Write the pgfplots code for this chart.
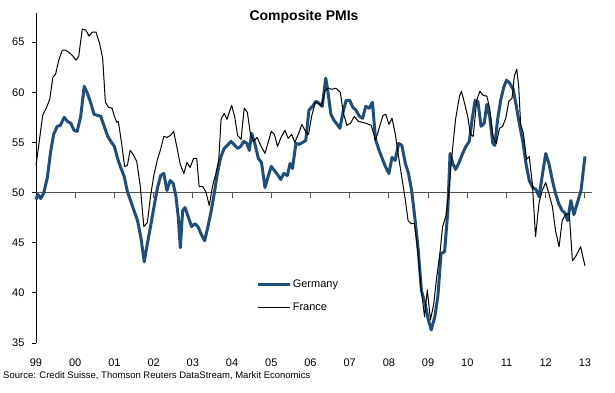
\documentclass[border=0pt]{standalone}
\usepackage{pgfplots}
\pgfplotsset{compat=1.18}
\usepackage{fontspec}
\setmainfont{Liberation Sans}
\definecolor{gerblue}{RGB}{31,78,121}
\definecolor{axisgray}{RGB}{80,80,80}
\begin{document}
\begin{tikzpicture}[x=1pt,y=1pt]
\useasboundingbox (0,0) rectangle (615,392);
\begin{axis}[
  at={(36pt,49pt)}, anchor=south west,
  scale only axis, width=556pt, height=330pt,
  xmin=1999, xmax=2013.18, ymin=35, ymax=67.9,
  axis x line*=bottom, axis y line*=left,
  axis line style={-},
  x axis line style={draw=none},
  y axis line style={black, line width=0.8pt},
  xtick={1999,2000,...,2013},
  xticklabels={99,00,01,02,03,04,05,06,07,08,09,10,11,12,13},
  xtick style={draw=none},
  ytick={35,40,...,65},
  ytick style={black, line width=0.8pt},
  tick align=outside,
  major tick length=4pt,
  /pgf/number format/assume math mode=true,
  tick label style={font=\fontsize{11}{13}\selectfont},
  xticklabel style={yshift=-8pt},
  yticklabel style={xshift=-4pt},
  clip=false,
  legend style={at={(axis cs:2004.55,39.73)}, anchor=west, draw=none, fill=none,
    font=\fontsize{11}{13}\selectfont, row sep=12pt,
    nodes={inner sep=1pt}},
  legend cell align=left,
  legend image code/.code={\draw[#1] (0pt,0pt) -- (32pt,0pt);},
]
\draw[axisgray, line width=1.3pt] (axis cs:1999,50) -- (axis cs:2013.18,50);
\pgfplotsinvokeforeach{2000,...,2013}{\draw[axisgray, line width=0.9pt] (axis cs:#1,50) -- ++(0pt,-5pt);}
\addplot[gerblue, line width=3pt, line join=round] coordinates {
(1999.00,49.3) (1999.05,49.8) (1999.12,49.4) (1999.20,50.0) (1999.29,51.5) (1999.37,54.0)
(1999.45,55.8) (1999.54,56.6) (1999.62,56.7) (1999.72,57.5) (1999.80,57.1) (1999.89,56.9)
(1999.97,56.2) (2000.05,56.1) (2000.14,57.6) (2000.23,60.6) (2000.31,59.9) (2000.40,58.9)
(2000.48,57.8) (2000.57,57.7) (2000.65,57.6) (2000.74,56.6) (2000.83,55.6) (2000.91,55.1)
(2001.00,54.6) (2001.08,53.4) (2001.17,52.4) (2001.25,51.6) (2001.33,50.1) (2001.42,49.1)
(2001.50,48.2) (2001.59,47.2) (2001.68,45.4) (2001.76,43.1) (2001.84,44.9) (2001.93,46.8)
(2002.01,48.6) (2002.10,50.5) (2002.18,51.7) (2002.26,51.9) (2002.34,50.2) (2002.42,51.2)
(2002.50,50.9) (2002.57,49.6) (2002.63,47.5) (2002.68,44.5) (2002.74,48.2) (2002.80,48.5)
(2002.88,47.6) (2002.97,46.6) (2003.05,46.9) (2003.13,46.6) (2003.22,45.8) (2003.30,45.2)
(2003.38,46.5) (2003.47,48.2) (2003.55,50.0) (2003.63,52.0) (2003.71,53.5) (2003.80,54.4)
(2003.88,54.7) (2003.97,55.1) (2004.05,54.8) (2004.14,54.4) (2004.22,54.6) (2004.30,55.1)
(2004.38,54.9) (2004.44,54.2) (2004.50,55.9) (2004.58,54.9) (2004.67,53.4) (2004.75,53.0)
(2004.84,50.5) (2004.92,51.6) (2005.00,52.6) (2005.08,52.2) (2005.16,51.8) (2005.24,51.3)
(2005.32,51.9) (2005.41,51.7) (2005.48,52.9) (2005.54,52.4) (2005.63,54.9) (2005.71,54.8)
(2005.80,55.0) (2005.88,55.2) (2005.96,58.2) (2006.05,58.6) (2006.14,59.1) (2006.22,58.9)
(2006.30,58.6) (2006.39,61.4) (2006.45,59.9) (2006.52,57.8) (2006.60,57.2) (2006.68,56.8)
(2006.75,56.4) (2006.83,58.0) (2006.91,59.2) (2007.00,59.2) (2007.08,58.5) (2007.16,58.2)
(2007.25,57.6) (2007.33,57.4) (2007.41,58.6) (2007.50,58.4) (2007.58,59.0) (2007.66,55.3)
(2007.75,54.2) (2007.83,53.4) (2007.91,52.6) (2008.00,51.9) (2008.08,53.5) (2008.16,53.2)
(2008.25,54.9) (2008.33,54.7) (2008.42,52.9) (2008.50,51.9) (2008.58,50.2) (2008.67,47.2)
(2008.75,44.2) (2008.83,40.2) (2008.92,39.0) (2009.00,37.4) (2009.08,36.3) (2009.17,37.6)
(2009.25,39.7) (2009.33,43.9) (2009.42,44.1) (2009.50,48.0) (2009.56,53.9) (2009.63,52.9)
(2009.70,52.3) (2009.78,52.9) (2009.87,53.8) (2009.95,54.5) (2010.05,55.1) (2010.13,57.5)
(2010.20,59.2) (2010.27,59.1) (2010.35,56.6) (2010.43,56.9) (2010.50,58.8) (2010.57,57.6)
(2010.65,54.9) (2010.70,54.7) (2010.77,57.2) (2010.85,59.2) (2010.93,60.5) (2011.00,61.2)
(2011.08,60.9) (2011.17,60.3) (2011.25,58.6) (2011.33,56.8) (2011.42,55.0) (2011.50,52.8)
(2011.58,51.2) (2011.67,50.5) (2011.75,50.3) (2011.83,49.6) (2011.92,51.9) (2012.00,53.9)
(2012.08,52.9) (2012.17,51.2) (2012.25,49.9) (2012.33,48.9) (2012.42,48.2) (2012.50,47.9)
(2012.56,47.2) (2012.64,49.2) (2012.72,47.8) (2012.80,48.9) (2012.90,50.2) (2013.00,53.6)
};
\addlegendentry{Germany}
\addplot[black, line width=1pt, line join=round] coordinates {
(1999.00,52.7) (1999.08,55.0) (1999.17,57.7) (1999.27,58.5) (1999.35,59.3) (1999.43,61.5)
(1999.50,61.8) (1999.58,63.2) (1999.67,64.2) (1999.75,64.2) (1999.83,64.0) (1999.92,63.7)
(2000.02,63.2) (2000.09,63.6) (2000.18,66.3) (2000.27,66.2) (2000.35,65.6) (2000.44,66.0)
(2000.53,66.0) (2000.62,64.9) (2000.70,63.4) (2000.77,59.0) (2000.85,58.5) (2000.94,58.4)
(2001.00,57.6) (2001.06,57.0) (2001.10,57.1) (2001.18,55.0) (2001.26,52.6) (2001.33,52.7)
(2001.40,54.2) (2001.48,53.8) (2001.57,53.1) (2001.66,50.6) (2001.75,46.6) (2001.84,47.0)
(2001.92,49.6) (2002.00,51.6) (2002.09,53.2) (2002.17,54.2) (2002.26,55.6) (2002.34,55.5)
(2002.43,55.7) (2002.51,56.1) (2002.60,54.4) (2002.68,52.8) (2002.77,51.9) (2002.85,53.0)
(2002.93,52.5) (2003.02,53.4) (2003.10,53.4) (2003.16,50.6) (2003.25,50.6) (2003.33,50.1)
(2003.42,48.7) (2003.50,50.6) (2003.58,51.8) (2003.66,53.2) (2003.72,57.3) (2003.80,57.9)
(2003.87,57.3) (2003.99,58.7) (2004.07,57.5) (2004.14,55.7) (2004.23,55.3) (2004.31,58.4)
(2004.39,58.0) (2004.47,55.8) (2004.55,55.1) (2004.64,55.5) (2004.73,54.7) (2004.84,53.9)
(2004.92,55.0) (2005.00,56.1) (2005.08,55.8) (2005.16,54.6) (2005.25,55.5) (2005.35,56.2)
(2005.43,55.4) (2005.52,55.8) (2005.60,55.0) (2005.70,55.9) (2005.78,56.8) (2005.86,56.2)
(2005.95,55.8) (2006.03,57.6) (2006.12,59.0) (2006.20,58.9) (2006.28,58.6) (2006.37,60.2)
(2006.45,60.4) (2006.55,60.3) (2006.65,60.4) (2006.76,60.0) (2006.84,57.9) (2006.93,56.7)
(2007.02,56.9) (2007.12,57.6) (2007.22,57.1) (2007.32,57.0) (2007.42,56.9) (2007.55,56.7)
(2007.66,55.2) (2007.75,56.4) (2007.85,57.7) (2007.92,57.8) (2008.00,56.8) (2008.08,57.4)
(2008.16,55.9) (2008.25,53.5) (2008.33,51.5) (2008.41,49.5) (2008.49,47.2) (2008.57,46.9)
(2008.65,46.9) (2008.73,44.5) (2008.82,40.5) (2008.91,37.6) (2008.98,40.3) (2009.06,37.3)
(2009.14,38.8) (2009.22,41.6) (2009.30,43.9) (2009.37,46.6) (2009.45,47.6) (2009.53,50.2)
(2009.62,54.2) (2009.70,57.3) (2009.80,59.6) (2009.85,60.1) (2009.93,58.9) (2010.01,57.6)
(2010.08,55.8) (2010.15,55.6) (2010.24,59.2) (2010.32,60.1) (2010.40,59.7) (2010.50,59.6)
(2010.57,58.4) (2010.66,55.5) (2010.74,54.9) (2010.82,56.4) (2010.90,56.6) (2010.98,57.4)
(2011.06,59.1) (2011.14,59.4) (2011.20,61.6) (2011.26,62.3) (2011.31,60.6) (2011.36,56.8)
(2011.43,55.9) (2011.51,53.3) (2011.58,53.6) (2011.66,50.8) (2011.74,45.6) (2011.83,49.0)
(2011.91,50.2) (2012.00,51.0) (2012.08,49.9) (2012.17,48.6) (2012.25,46.2) (2012.34,44.6)
(2012.42,47.2) (2012.50,47.8) (2012.60,47.9) (2012.68,43.2) (2012.76,43.6) (2012.89,44.6)
(2013.00,42.7)
};
\addlegendentry{France}
\end{axis}
\node[font=\fontsize{14}{16}\selectfont\bfseries] at (304,375) {Composite PMIs};
\node[font=\fontsize{9.5}{11}\selectfont, anchor=west, inner sep=0pt] at (3,16) {Source: Credit Suisse, Thomson Reuters DataStream, Markit Economics};
\end{tikzpicture}
\end{document}
